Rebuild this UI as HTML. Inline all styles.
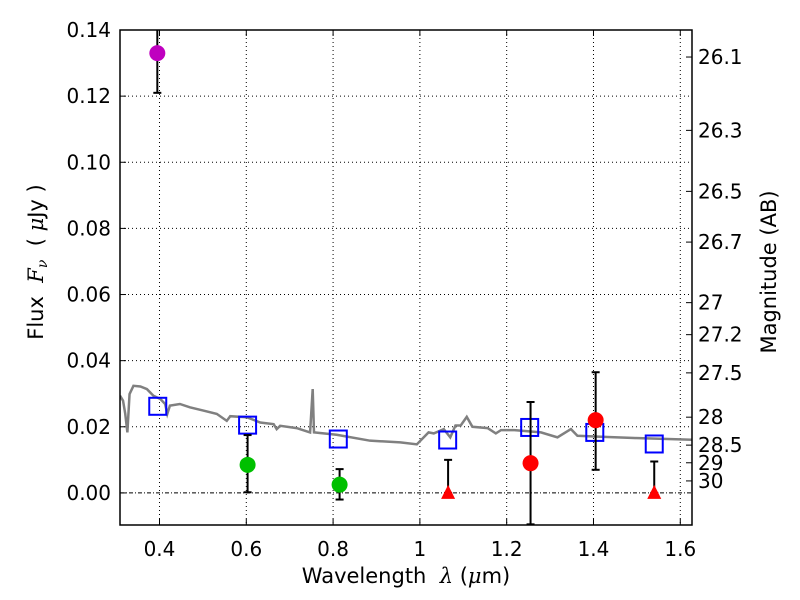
<!DOCTYPE html>
<html><head><meta charset="utf-8"><style>
body{margin:0;background:#fff}
svg{display:block;font-family:"DejaVu Sans","Liberation Sans",sans-serif}
</style></head><body>
<svg id="chart" width="800" height="600"></svg>
<script>
const xTicks=[0.4,0.6,0.8,1.0,1.2,1.4,1.6];
const xTickLabels=["0.4","0.6","0.8","1","1.2","1.4","1.6"];
const yTicks=[0,0.02,0.04,0.06,0.08,0.10,0.12,0.14];
const yTickLabels=["0.00","0.02","0.04","0.06","0.08","0.10","0.12","0.14"];
const magTicks=[26.1,26.3,26.5,26.7,27,27.2,27.5,28,28.5,29,30];
const magTickLabels=["26.1","26.3","26.5","26.7","27","27.2","27.5","28","28.5","29","30"];
const specX=[0.309,0.316,0.321,0.326,0.331,0.340,0.356,0.371,0.386,0.402,0.413,0.418,0.424,0.447,0.470,0.501,0.532,0.555,0.563,0.601,0.632,0.663,0.670,0.678,0.716,0.747,0.753,0.756,0.808,0.885,0.955,0.993,1.020,1.032,1.055,1.070,1.082,1.094,1.108,1.121,1.156,1.175,1.187,1.218,1.279,1.317,1.348,1.363,1.417,1.494,1.571,1.648];
const specY=[0.0294,0.0279,0.024,0.0183,0.0299,0.0324,0.0322,0.0314,0.0294,0.0284,0.0269,0.0239,0.0264,0.0269,0.0259,0.0249,0.0239,0.0218,0.0232,0.0229,0.0213,0.0208,0.0193,0.0203,0.0196,0.0183,0.0314,0.0183,0.0176,0.0158,0.0153,0.0147,0.0183,0.0180,0.0193,0.0168,0.0204,0.0204,0.0230,0.0200,0.0196,0.0180,0.019,0.019,0.0183,0.0168,0.0193,0.0173,0.017,0.0166,0.0163,0.016];
const modelX=[0.396,0.603,0.812,1.064,1.253,1.403,1.540];
const modelY=[0.0262,0.0205,0.0163,0.016,0.0198,0.0183,0.0148];
const detX=[0.395,0.603,0.815,1.255,1.405];
const detY=[0.133,0.0085,0.0025,0.009,0.022];
const detLo=[0.121,0.0002,-0.002,-0.0095,0.007];
const detHi=[0.145,0.0175,0.0072,0.0275,0.0365];
const detColor=["#bf00bf","#00c000","#00c000","#ff0000","#ff0000"];
const limX=[1.065,1.54];
const limY=[0,0];
const limHi=[0.0100,0.0095];

const L=120,R=692,T=30,B=525,X0=0.309,X1=1.627,Y0=-0.0097,Y1=0.14;
const sx=v=>L+(v-X0)/(X1-X0)*(R-L);
const sy=v=>B-(v-Y0)/(Y1-Y0)*(B-T);
const NS="http://www.w3.org/2000/svg";
const svg=document.getElementById('chart');
function mk(tag,attrs,parent){const e=document.createElementNS(NS,tag);for(const k in attrs)e.setAttribute(k,attrs[k]);(parent||svg).appendChild(e);return e;}
const clip=mk('clipPath',{id:'pc'});mk('rect',{x:L,y:T,width:R-L,height:B-T},clip);
xTicks.forEach((v,i)=>{
  const g=mk('line',{x1:sx(v),x2:sx(v),y1:T,y2:B,stroke:'#000','stroke-width':1,'stroke-dasharray':'1,3'});
  
  
  mk('line',{x1:sx(v),x2:sx(v),y1:B,y2:B-6,stroke:'#000'});
  mk('line',{x1:sx(v),x2:sx(v),y1:T,y2:T+6,stroke:'#000'});
  const t=mk('text',{x:sx(v),y:B+31,'text-anchor':'middle','font-size':20});t.textContent=xTickLabels[i];
  
  
});
yTicks.forEach((v,i)=>{
  const g=mk('line',{x1:L,x2:R,y1:sy(v),y2:sy(v),stroke:'#000','stroke-width':1,'stroke-dasharray':v===0?'4,2,1,2':'1,3'});
  
  
  mk('line',{x1:L,x2:L+6,y1:sy(v),y2:sy(v),stroke:'#000'});
  const t=mk('text',{x:L-9,y:sy(v)+7,'text-anchor':'end','font-size':20});t.textContent=yTickLabels[i];
  
  
});
magTicks.forEach((m,i)=>{
  const f=Math.pow(10,(23.9-m)/2.5);
  mk('line',{x1:R,x2:R-6,y1:sy(f),y2:sy(f),stroke:'#000'});
  const t=mk('text',{x:R+6,y:sy(f)+7,'font-size':20});t.textContent=magTickLabels[i];
  
  
});
const g=mk('g',{'clip-path':'url(#pc)'});
const sp=mk('polyline',{points:specX.map((x,i)=>sx(x)+','+sy(specY[i])).join(' '),fill:'none',stroke:'#808080','stroke-width':2.5},g);


modelX.forEach((x,i)=>{
  const r=mk('rect',{x:sx(x)-8.5,y:sy(modelY[i])-8.5,width:17,height:17,fill:'none',stroke:'#0000ff','stroke-width':2},g);
  
  
});
function errbar(x,lo,hi){
  mk('line',{x1:sx(x),x2:sx(x),y1:sy(lo),y2:sy(hi),stroke:'#000','stroke-width':2},g);
  mk('line',{x1:sx(x)-4,x2:sx(x)+4,y1:sy(lo),y2:sy(lo),stroke:'#000','stroke-width':2},g);
  mk('line',{x1:sx(x)-4,x2:sx(x)+4,y1:sy(hi),y2:sy(hi),stroke:'#000','stroke-width':2},g);
}
detX.forEach((x,i)=>{
  errbar(x,detLo[i],detHi[i]);
  const c=mk('circle',{cx:sx(x),cy:sy(detY[i]),r:8,fill:detColor[i]},g);
  
  
});
limX.forEach((x,i)=>{
  errbar(x,limY[i],limHi[i]);
  const px=sx(x),py=sy(limY[i]);
  const p=mk('polygon',{points:`${px},${py-8} ${px-7},${py+6} ${px+7},${py+6}`,fill:'#ff0000'},g);
  
  
});
const fr=mk('rect',{x:L,y:T,width:R-L,height:B-T,fill:'none',stroke:'#000','stroke-width':1.5});


const xl=mk('text',{x:406,y:583,'text-anchor':'middle','font-size':21});
xl.innerHTML='Wavelength&#160;&#160;<tspan font-family="DejaVu Serif" font-style="italic">λ</tspan> (<tspan font-family="DejaVu Serif" font-style="italic">μ</tspan>m)';


const yl=mk('text',{x:0,y:0,'text-anchor':'middle','font-size':21,transform:'translate(43,262) rotate(-90)'});
yl.innerHTML='Flux&#160;&#160;<tspan font-family="DejaVu Serif" font-style="italic">F<tspan font-size="14" dy="4">ν</tspan></tspan><tspan dy="-4">&#160;&#160;( </tspan><tspan font-family="DejaVu Serif" font-style="italic">μ</tspan>Jy )';


const ml=mk('text',{x:0,y:0,'text-anchor':'middle','font-size':21,transform:'translate(776,272) rotate(-90)'});
ml.textContent='Magnitude (AB)';


</script>
</body></html>
